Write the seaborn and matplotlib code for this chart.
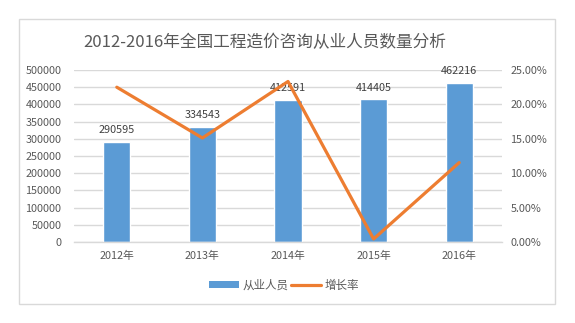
import numpy as np
import pandas as pd
import seaborn as sns
import matplotlib
matplotlib.use("Agg")
import matplotlib.pyplot as plt
from matplotlib.patches import Rectangle, Patch
from matplotlib.lines import Line2D
from matplotlib.ticker import FuncFormatter, MultipleLocator

years = ["2012年", "2013年", "2014年", "2015年", "2016年"]
practitioners = [290595, 334543, 412591, 414405, 462216]
growth_rate = [0.225, 0.1512, 0.2333, 0.0044, 0.1154]

title = "2012-2016年全国工程造价咨询从业人员数量分析"
bar_label_name = "从业人员"
line_label_name = "增长率"

BLUE = "#5B9BD5"
ORANGE = "#ED7D31"
GRID = "#D9D9D9"
TEXT = "#595959"

sns.set_theme(style="white")
plt.rcParams["font.family"] = ["Noto Sans CJK SC", "DejaVu Sans"]

W, H = 575, 323
fig = plt.figure(figsize=(W / 100, H / 100), dpi=100)
ax = fig.add_axes([74 / W, 1 - 242 / H, (502 - 74) / W, (242 - 70) / H])

df = pd.DataFrame({"year": years, "count": practitioners, "rate": growth_rate})

sns.barplot(data=df, x="year", y="count", color=BLUE, width=0.32,
            saturation=1, ax=ax, zorder=2)
ax.set_ylim(0, 500000)
ax.yaxis.set_major_locator(MultipleLocator(50000))
ax.grid(axis="y", color=GRID, linewidth=1, zorder=0)
ax.set_axisbelow(True)
for s in ["left", "right", "top"]:
    ax.spines[s].set_visible(False)
ax.spines["bottom"].set_color(GRID)
ax.spines["bottom"].set_linewidth(1)
ax.set_xlabel("")
ax.set_ylabel("")
ax.tick_params(axis="both", length=0, labelsize=7.8, colors=TEXT)
ax.tick_params(axis="y", pad=9)
ax.tick_params(axis="x", pad=6)

for cont in ax.containers:
    ax.bar_label(cont, labels=[str(v) for v in practitioners], padding=5,
                 fontsize=7.8, color="#404040")

ax2 = ax.twinx()
sns.lineplot(x=np.arange(len(years)), y=growth_rate, color=ORANGE,
             linewidth=2.3, ax=ax2, zorder=3)
ax2.set_ylim(0, 0.25)
ax2.yaxis.set_major_locator(MultipleLocator(0.05))
ax2.yaxis.set_major_formatter(FuncFormatter(lambda v, p: f"{v * 100:.2f}%"))
ax2.tick_params(axis="y", length=0, labelsize=7.8, colors=TEXT, pad=6)
ax2.set_ylabel("")
for s in ax2.spines.values():
    s.set_visible(False)
# keep the category slots of the bar axis after the line autoscaled x
ax.set_xlim(-0.5, len(years) - 0.5)

fig.text(264.5 / W, 1 - 43 / H, title, ha="center", va="center",
         fontsize=12, color=TEXT)

handles = [Patch(facecolor=BLUE, edgecolor="none"),
           Line2D([0], [0], color=ORANGE, linewidth=2.3)]
fig.legend(handles, [bar_label_name, line_label_name], loc="center",
           bbox_to_anchor=(284 / W, 1 - 285 / H), ncol=2, frameon=False,
           fontsize=8.3, labelcolor=TEXT, handlelength=2.6, handleheight=0.55,
           handletextpad=0.3, columnspacing=0.3)

fig.add_artist(Rectangle((19 / W, 1 - 304 / H), (555 - 19) / W, (304 - 19) / H,
                         transform=fig.transFigure, fill=False,
                         edgecolor=GRID, linewidth=1))

fig.savefig("out.png", dpi=100)
